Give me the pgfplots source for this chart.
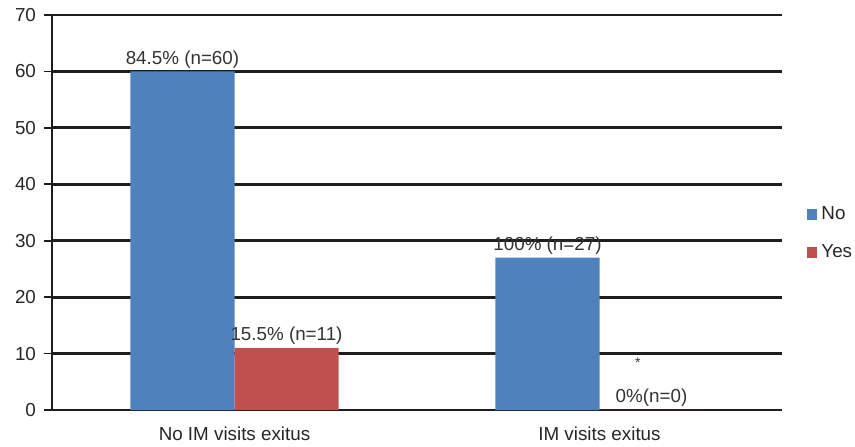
\documentclass[border=0pt]{standalone}
\usepackage{fontspec}
\setmainfont{Liberation Sans}
\usepackage{pgfplots}
\pgfplotsset{compat=1.18}
\definecolor{barblue}{RGB}{79,129,189}
\definecolor{barred}{RGB}{192,80,77}
\definecolor{gridc}{RGB}{30,30,30}
\begin{document}
\begin{tikzpicture}[font=\fontsize{9.4}{11}\selectfont]
\path[use as bounding box] (-26pt,-18pt) rectangle (401.5pt,205pt);
\begin{axis}[
  scale only axis, width=365pt, height=197.5pt,
  xmin=-0.5, xmax=1.5, ymin=0, ymax=70,
  ytick={0,10,...,70},
  xtick={0,1}, xticklabels={No IM visits exitus, IM visits exitus},
  x tick style={draw=none},
  extra x ticks={-0.5,0.5,1.5}, extra x tick labels={},
  extra x tick style={grid=none, tick style={draw=gridc!70, line width=0.6pt}},
  axis x line=bottom, axis y line=left,
  axis line style={-},
  x axis line style={draw=gridc, line width=1.4pt},
  y axis line style={draw=gridc, line width=0.8pt},
  ytick style={draw=gridc, line width=0.8pt},
  tick align=outside, major tick length=4pt,
  ymajorgrids, grid style={draw=gridc, line width=1.4pt},
  /pgf/number format/assume math mode=true,
  tick label style={font=\fontsize{9.4}{11}\selectfont, text=black!85},
  yticklabel style={xshift=-0.5pt},
  xticklabel style={yshift=-1pt},
  ybar, bar width=0.285,
  point meta=explicit symbolic,
  nodes near coords,
  nodes near coords style={font=\fontsize{9.4}{11}\selectfont, text=black!80, inner sep=1.5pt},
  legend style={at={(1.025,0.446)}, anchor=west, draw=none, fill=none,
    row sep=7pt, font=\fontsize{9.4}{11}\selectfont, text=black!85},
  legend cell align=left,
]
\addplot[fill=barblue, draw=none, bar shift=-0.1425,
  legend image code/.code={\fill[barblue] (0pt,-2.7pt) rectangle (5.4pt,2.7pt);}]
  coordinates {(0,60) [84.5\% (n=60)] (1,27) [100\% (n=27)]};
\addplot[fill=barred, draw=none, bar shift=0.1425,
  legend image code/.code={\fill[barred] (0pt,-2.7pt) rectangle (5.4pt,2.7pt);}]
  coordinates {(0,11) [15.5\% (n=11)] (1,0) [0\%(n=0)]};
\legend{No, Yes}
\node[font=\fontsize{7}{8}\selectfont, text=black!80] at (axis cs:1.105,8.4) {*};
\end{axis}
\end{tikzpicture}
\end{document}
